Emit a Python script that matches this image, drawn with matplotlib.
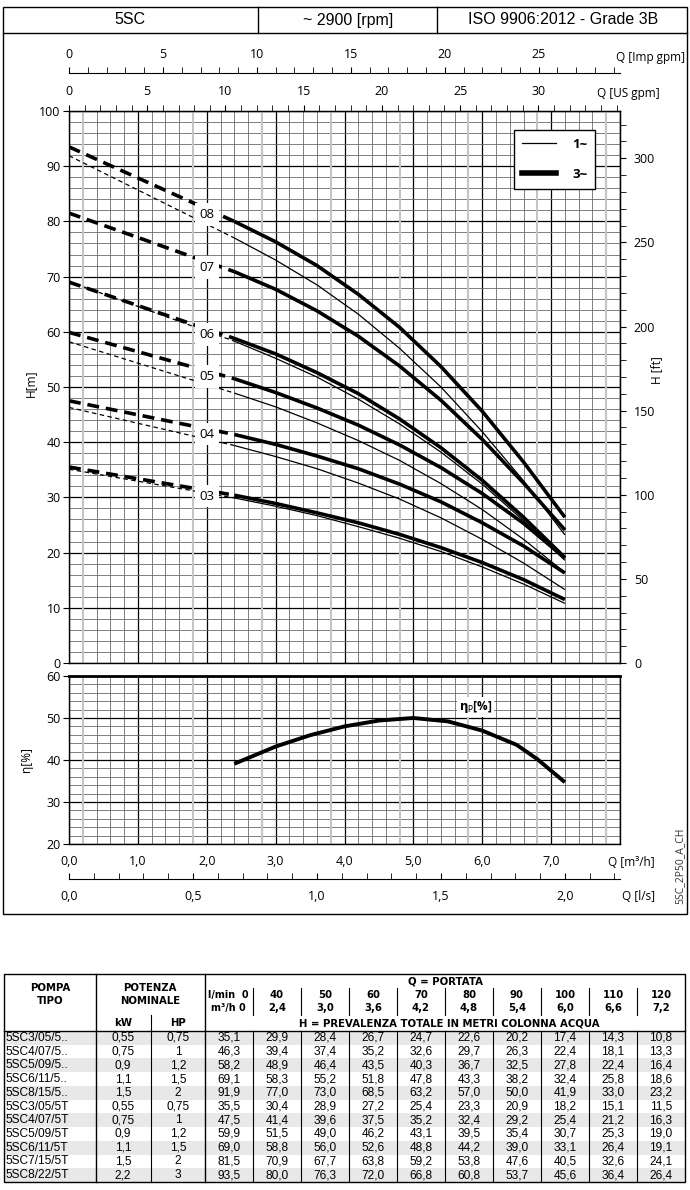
import numpy as np
import matplotlib
matplotlib.use('Agg')
import matplotlib.pyplot as plt
from matplotlib.ticker import MultipleLocator, FixedLocator, FuncFormatter
from matplotlib.lines import Line2D
from matplotlib.patches import Rectangle

plt.rcParams['font.family'] = ['Open Sans', 'DejaVu Sans']

# table / curve data
q_lmin = [0, 40, 50, 60, 70, 80, 90, 100, 110, 120]
q_m3h = [0, 2.4, 3.0, 3.6, 4.2, 4.8, 5.4, 6.0, 6.6, 7.2]
models = ['5SC3/05/5..', '5SC4/07/5..', '5SC5/09/5..', '5SC6/11/5..', '5SC8/15/5..',
          '5SC3/05/5T', '5SC4/07/5T', '5SC5/09/5T', '5SC6/11/5T', '5SC7/15/5T', '5SC8/22/5T']
kw = ['0,55', '0,75', '0,9', '1,1', '1,5', '0,55', '0,75', '0,9', '1,1', '1,5', '2,2']
hp = ['0,75', '1', '1,2', '1,5', '2', '0,75', '1', '1,2', '1,5', '2', '3']
heads = [
    [35.1, 29.9, 28.4, 26.7, 24.7, 22.6, 20.2, 17.4, 14.3, 10.8],
    [46.3, 39.4, 37.4, 35.2, 32.6, 29.7, 26.3, 22.4, 18.1, 13.3],
    [58.2, 48.9, 46.4, 43.5, 40.3, 36.7, 32.5, 27.8, 22.4, 16.4],
    [69.1, 58.3, 55.2, 51.8, 47.8, 43.3, 38.2, 32.4, 25.8, 18.6],
    [91.9, 77.0, 73.0, 68.5, 63.2, 57.0, 50.0, 41.9, 33.0, 23.2],
    [35.5, 30.4, 28.9, 27.2, 25.4, 23.3, 20.9, 18.2, 15.1, 11.5],
    [47.5, 41.4, 39.6, 37.5, 35.2, 32.4, 29.2, 25.4, 21.2, 16.3],
    [59.9, 51.5, 49.0, 46.2, 43.1, 39.5, 35.4, 30.7, 25.3, 19.0],
    [69.0, 58.8, 56.0, 52.6, 48.8, 44.2, 39.0, 33.1, 26.4, 19.1],
    [81.5, 70.9, 67.7, 63.8, 59.2, 53.8, 47.6, 40.5, 32.6, 24.1],
    [93.5, 80.0, 76.3, 72.0, 66.8, 60.8, 53.7, 45.6, 36.4, 26.4],
]
phase = ['1~'] * 5 + ['3~'] * 6
stages = ['03', '04', '05', '06', '08', '03', '04', '05', '06', '07', '08']

eta_q = [2.4, 3.0, 3.5, 4.0, 4.5, 5.0, 5.5, 6.0, 6.5, 6.8, 7.2]
eta = [39.1, 43.2, 45.9, 48.0, 49.4, 50.0, 49.2, 47.0, 43.6, 40.2, 34.7]

W, H = 690, 1190
fig = plt.figure(figsize=(W / 100, H / 100), dpi=100)


def rect(x0, y0, x1, y1):
    return [x0 / W, 1 - y1 / H, (x1 - x0) / W, (y1 - y0) / H]


def comma(v, pos=None):
    return f"{v:.1f}".replace('.', ',')


# background axes in pixel units: frame, header, table, free labels
bg = fig.add_axes([0, 0, 1, 1], zorder=-1)
bg.set_xlim(0, W)
bg.set_ylim(H, 0)
bg.axis('off')

bg.add_patch(Rectangle((3, 7), 684, 907, fill=False, lw=1, ec='black'))
bg.plot([3, 687], [33, 33], color='black', lw=1)
for xd in [258, 437]:
    bg.plot([xd, xd], [7, 33], color='black', lw=1)
hf = dict(family='Liberation Sans', fontsize=11.5, ha='center', va='center')
bg.text(130, 20, '5SC', **hf)
bg.text(348, 20, '~ 2900 [rpm]', **hf)
bg.text(563, 20, 'ISO 9906:2012 - Grade 3B', **hf)

lf = dict(fontsize=8.5, va='center')
bg.text(685, 57, 'Q [Imp gpm]', ha='right', **lf)
bg.text(660, 93, 'Q [US gpm]', ha='right', **lf)
bg.text(655, 862, 'Q [m³/h]', ha='right', **lf)
bg.text(655, 896, 'Q [l/s]', ha='right', **lf)
bg.text(30, 383, 'H[m]', rotation=90, ha='center', **lf)
bg.text(657, 370, 'H [ft]', rotation=90, ha='center', **lf)
bg.text(26, 760, 'η[%]', rotation=90, ha='center', **lf)
bg.text(680, 866, '5SC_2P50_A_CH', rotation=90, ha='center', va='center',
        fontsize=7.5, color='#333333')

# ---------------- head chart ----------------
ax = fig.add_axes(rect(69, 111, 620, 663))
ax.set_xlim(0, 8)
ax.set_ylim(0, 100)
ax.xaxis.set_major_locator(MultipleLocator(1))
ax.xaxis.set_minor_locator(MultipleLocator(0.2))
ax.yaxis.set_major_locator(MultipleLocator(10))
ax.yaxis.set_minor_locator(MultipleLocator(2))
ax.set_axisbelow(True)
ax.grid(which='minor', color='#6a6a6a', lw=0.6)
ax.grid(which='major', color='black', lw=0.9)
ax.tick_params(axis='x', which='both', bottom=False, labelbottom=False)
ax.tick_params(axis='y', which='major', direction='out', length=4, labelsize=9, pad=2)
ax.tick_params(axis='y', which='minor', left=False)
for sp in ax.spines.values():
    sp.set_linewidth(1)

# faint lines of the overlaid grid
for v in [0.2, 1.8, 2.8, 3.8, 4.8, 5.8, 6.8, 7.8]:
    ax.axvline(v, color='#c4c4c4', lw=1.5, zorder=0.8)

for h, ph, st in zip(heads, phase, stages):
    thick = ph == '3~'
    lw = 2.6 if thick else 0.9
    dash = (3.3, 1.9) if thick else (3.6, 2.7)
    ax.plot(q_m3h[:2], h[:2], color='black', lw=lw, dashes=dash, zorder=3)
    ax.plot(q_m3h[1:], h[1:], color='black', lw=lw, solid_capstyle='butt',
            solid_joinstyle='round', zorder=3)
    if thick:
        yl = np.interp(2.0, q_m3h[:2], h[:2])
        ax.text(2.0, yl - 1.0, st, ha='center', va='center', fontsize=9.5, zorder=5,
                bbox=dict(boxstyle='square,pad=0.35', fc='white', ec='none'))

leg = ax.legend([Line2D([], [], color='black', lw=0.9), Line2D([], [], color='black', lw=4)],
                ['1~', '3~'], loc='upper right', bbox_to_anchor=(602 / W, 1 - 123 / H),
                bbox_transform=fig.transFigure, frameon=True, fancybox=False,
                edgecolor='black', framealpha=1, handlelength=2.6, labelspacing=1.3,
                borderpad=0.6, handletextpad=1.2, prop=dict(weight='bold', size=9.5))
leg.get_frame().set_linewidth(1)
leg.set_zorder(6)

# US gpm on top
us = ax.secondary_xaxis('top', functions=(lambda q: q * 4.40287, lambda g: g / 4.40287))
us.xaxis.set_major_locator(FixedLocator([0, 5, 10, 15, 20, 25, 30]))
us.xaxis.set_minor_locator(MultipleLocator(1))
us.tick_params(which='both', direction='out', length=4, labelsize=9, pad=5)

# feet on the right
ft = ax.secondary_yaxis('right', functions=(lambda m: m * 3.28084, lambda f: f / 3.28084))
ft.yaxis.set_major_locator(MultipleLocator(50))
ft.yaxis.set_minor_locator(MultipleLocator(10))
ft.tick_params(which='both', direction='out', length=4, labelsize=9, pad=6)

# Imp gpm scale
imp = fig.add_axes(rect(69, 73, 620, 73.5))
imp.set_xlim(0, 8 * 3.66615)
imp.patch.set_visible(False)
for k in ['left', 'right', 'bottom']:
    imp.spines[k].set_visible(False)
imp.set_yticks([])
imp.xaxis.set_ticks_position('top')
imp.xaxis.set_label_position('top')
imp.xaxis.set_major_locator(FixedLocator([0, 5, 10, 15, 20, 25]))
imp.xaxis.set_minor_locator(MultipleLocator(1))
imp.tick_params(which='both', direction='out', length=4, labelsize=9, pad=5)

# ---------------- efficiency chart ----------------
ae = fig.add_axes(rect(69, 676, 620, 844))
ae.set_xlim(0, 8)
ae.set_ylim(20, 60)
ae.xaxis.set_major_locator(FixedLocator(range(8)))
ae.xaxis.set_minor_locator(MultipleLocator(0.2))
ae.xaxis.set_major_formatter(FuncFormatter(comma))
ae.yaxis.set_major_locator(MultipleLocator(10))
ae.yaxis.set_minor_locator(MultipleLocator(2))
ae.set_axisbelow(True)
ae.grid(which='minor', color='#6a6a6a', lw=0.6)
ae.grid(which='major', color='black', lw=0.9)
ae.tick_params(axis='x', which='both', length=0, labelsize=9, pad=8)
ae.tick_params(axis='y', which='major', direction='out', length=4, labelsize=9, pad=2)
ae.tick_params(axis='y', which='minor', left=False)
ae.axvline(8, color='black', lw=1)
for sp in ae.spines.values():
    sp.set_linewidth(1)
ae.spines['top'].set_linewidth(2)
for v in [0.2, 1.8, 2.8, 3.8, 4.8, 5.8, 6.8, 7.8]:
    ae.axvline(v, color='#c4c4c4', lw=1.5, zorder=0.8)
ae.plot(eta_q, eta, color='black', lw=2.8, solid_capstyle='butt',
        solid_joinstyle='round', zorder=3)
ae.text(5.9, 52.6, r'$\mathbf{\eta}_{\mathrm{P}}$[%]', fontsize=8.5, fontweight='bold',
        ha='center', va='center', zorder=5,
        bbox=dict(boxstyle='square,pad=0.15', fc='white', ec='none'))

# l/s scale
ls = fig.add_axes(rect(69, 878.5, 620, 879))
ls.set_xlim(0, 8 / 3.6)
ls.patch.set_visible(False)
for k in ['left', 'right', 'top']:
    ls.spines[k].set_visible(False)
ls.set_yticks([])
ls.xaxis.set_major_locator(FixedLocator([0, 0.5, 1.0, 1.5, 2.0]))
ls.xaxis.set_minor_locator(MultipleLocator(0.1))
ls.xaxis.set_major_formatter(FuncFormatter(comma))
ls.tick_params(which='both', direction='in', length=4, labelsize=9, pad=8)

# ---------------- table ----------------
t_top, t_hdr, t_bot = 974, 1031, 1182
x_cols = [4, 96, 151, 205] + [205 + 48 * (i + 1) for i in range(10)]
row_h = (t_bot - t_hdr) / len(models)

for i in range(len(models)):
    if i % 2 == 0:
        bg.add_patch(Rectangle((4, t_hdr + i * row_h), 681, row_h, fc='#e8e8e8', ec='none'))

bg.add_patch(Rectangle((4, t_top), 681, t_bot - t_top, fill=False, ec='black', lw=1))
bg.plot([4, 685], [t_hdr, t_hdr], color='black', lw=1)
for xc in [96, 205]:
    bg.plot([xc, xc], [t_top, t_bot], color='black', lw=1)
bg.plot([151, 151], [1015, t_bot], color='black', lw=0.8)
for xc in x_cols[4:-1]:
    bg.plot([xc, xc], [988, 1015], color='black', lw=0.8)
    bg.plot([xc, xc], [t_hdr, t_bot], color='black', lw=0.8)

bh = dict(family='DejaVu Sans', fontsize=7.3, fontweight='bold', ha='center', va='center')
bg.text(50, 988, 'POMPA', **bh)
bg.text(50, 1001, 'TIPO', **bh)
bg.text(150, 988, 'POTENZA', **bh)
bg.text(150, 1001, 'NOMINALE', **bh)
bg.text(123, 1023, 'kW', **bh)
bg.text(178, 1023, 'HP', **bh)
bg.text(445, 981, 'Q = PORTATA', **bh)
bg.text(449, 1023, 'H = PREVALENZA TOTALE IN METRI COLONNA ACQUA', **bh)
bs = dict(bh, fontsize=6.9)
for j in range(len(q_lmin)):
    xc = (x_cols[3 + j] + x_cols[4 + j]) / 2
    if j == 0:
        bg.text(xc - 1, 995, f'l/min  {q_lmin[j]}', **bs)
        bg.text(xc - 1, 1008, f'm³/h {q_m3h[j]:g}', **bs)
    else:
        bg.text(xc, 995, str(q_lmin[j]), **bh)
        bg.text(xc, 1008, comma(q_m3h[j]), **bh)

td = dict(family='Liberation Sans', fontsize=8.6, va='center')
for i, name in enumerate(models):
    yc = t_hdr + (i + 0.5) * row_h
    bg.text(6, yc, name, ha='left', **td)
    bg.text(123, yc, kw[i], ha='center', **td)
    bg.text(178, yc, hp[i], ha='center', **td)
    for j, v in enumerate(heads[i]):
        xc = (x_cols[3 + j] + x_cols[4 + j]) / 2
        bg.text(xc, yc, comma(v), ha='center', **td)

fig.savefig('out.png', dpi=100)
